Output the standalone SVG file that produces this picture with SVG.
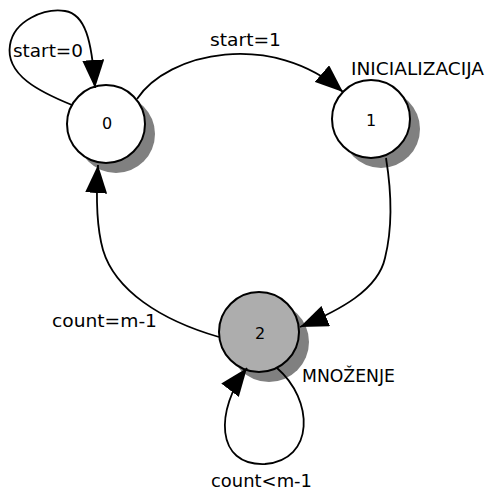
<svg xmlns="http://www.w3.org/2000/svg" width="486" height="490" viewBox="0 0 486 490">
  <style>
    .shadow { fill: #808080; stroke: none; }
    .state { fill: #ffffff; stroke: #000000; stroke-width: 2; }
    .state.active { fill: #adadad; }
    .num { font-family: "DejaVu Sans", "Liberation Sans", sans-serif; font-size: 16px; fill: #000; text-anchor: middle; }
    .lbl { font-family: "DejaVu Sans", "Liberation Sans", sans-serif; font-size: 17.5px; fill: #000; }
    .edge { fill: none; stroke: #000; stroke-width: 1.8; marker-end: url(#head); }
  </style>
  <defs>
    <marker id="head" markerUnits="userSpaceOnUse" viewBox="0 0 28 22" markerWidth="28" markerHeight="22" refX="28" refY="11" orient="auto">
      <path d="M0,0 L28,11 L0,22 Z" fill="#000"/>
    </marker>
  </defs>

  <rect width="486" height="490" fill="#ffffff"/>

  <g id="state-0">
    <circle class="shadow" cx="116" cy="134" r="39"/>
    <circle class="state" cx="106" cy="124" r="39"/>
    <text class="num" x="107" y="129">0</text>
  </g>

  <g id="state-1">
    <circle class="shadow" cx="381" cy="129" r="39"/>
    <circle class="state" cx="371" cy="119" r="39"/>
    <text class="num" x="371" y="126">1</text>
    <text class="lbl" x="351" y="75" textLength="133" lengthAdjust="spacingAndGlyphs">INICIALIZACIJA</text>
  </g>

  <g id="state-2">
    <circle class="shadow" cx="269" cy="342" r="40"/>
    <circle class="state active" cx="259" cy="332" r="40"/>
    <text class="num" x="260" y="339">2</text>
    <text class="lbl" x="302" y="382" textLength="93" lengthAdjust="spacingAndGlyphs">MNOŽENJE</text>
  </g>

  <g id="connectors">
    <!-- 0 -> 0 -->
    <path class="edge" d="M72,105 C40,92 5,75 10,45 C14,20 45,8 65,11 C85,14 92,40 95,88"/>
    <text class="lbl" x="13" y="57" textLength="70" lengthAdjust="spacingAndGlyphs">start=0</text>
    <!-- 0 -> 1 -->
    <path class="edge" d="M137,99 C168,52 272,30 343,92"/>
    <text class="lbl" x="210" y="46" textLength="71" lengthAdjust="spacingAndGlyphs">start=1</text>
    <!-- 1 -> 2 -->
    <path class="edge" d="M386,158 C392,195 392,230 385,258 C378,290 340,310 300,327"/>
    <!-- 2 -> 0 -->
    <path class="edge" d="M219,337 C160,320 115,290 103,250 C96,225 96,195 98,165"/>
    <text class="lbl" x="52" y="327" textLength="105" lengthAdjust="spacingAndGlyphs">count=m-1</text>
    <!-- 2 -> 2 -->
    <path class="edge" d="M277,368 C314,400 315,460 265,464 C215,466 215,410 247,368"/>
    <text class="lbl" x="211" y="487" textLength="101" lengthAdjust="spacingAndGlyphs">count&lt;m-1</text>
  </g>
</svg>
